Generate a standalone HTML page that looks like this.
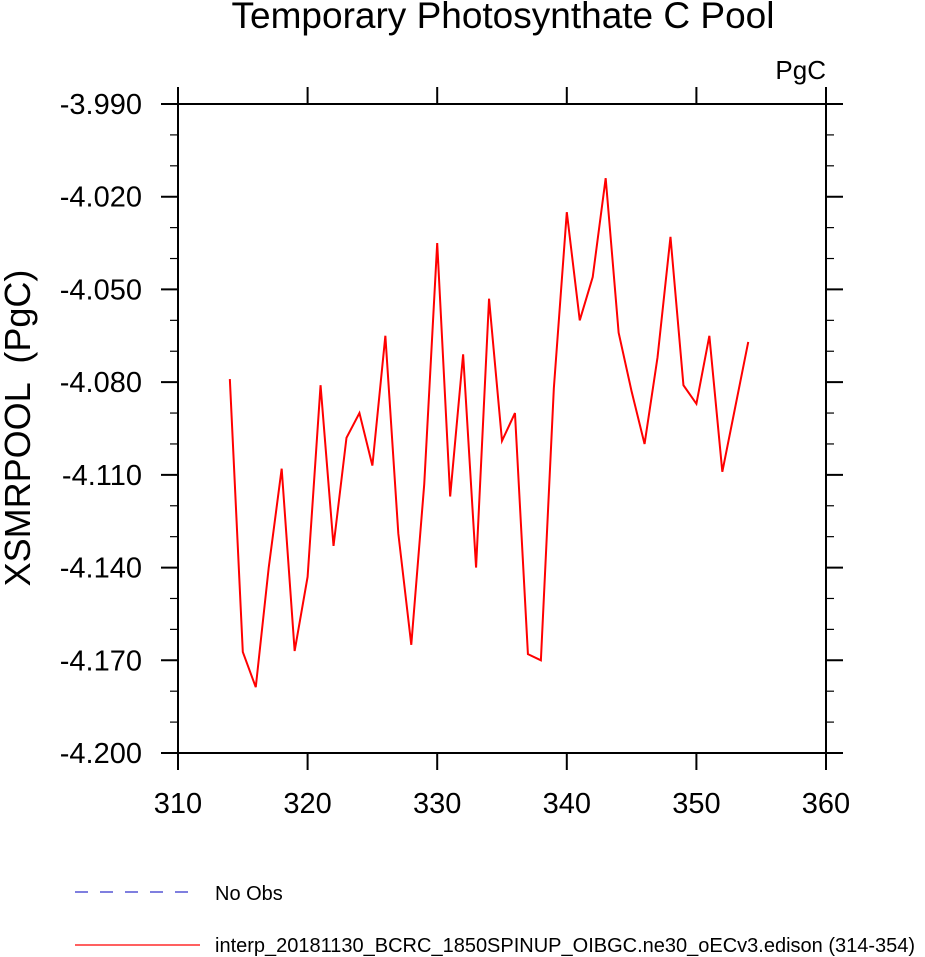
<!DOCTYPE html>
<html><head><meta charset="utf-8"><style>
html,body{margin:0;padding:0;background:#fff;}
svg{display:block;font-family:"Liberation Sans",sans-serif;}
</style></head><body>
<svg id="chart" width="925" height="957" viewBox="0 0 925 957">
<text x="503" y="28" font-size="37" text-anchor="middle">Temporary Photosynthate C Pool</text>
<text x="826" y="79" font-size="26" text-anchor="end">PgC</text>
<text transform="translate(30,428) rotate(-90)" font-size="36" text-anchor="middle" xml:space="preserve" style="white-space:pre">XSMRPOOL  (PgC)</text>
<g id="axes"></g>
<polyline id="series" fill="none" stroke="#ff0000" stroke-width="2"/>
<rect x="178" y="104" width="648" height="649" fill="none" stroke="#000" stroke-width="2"/>
<g>
<line x1="75" y1="892" x2="195" y2="892" stroke="#3333cc" stroke-width="1.2" stroke-dasharray="13,12"/>
<text x="215" y="900" font-size="20">No Obs</text>
<line x1="75" y1="945" x2="200" y2="945" stroke="#ff0000" stroke-width="1.2"/>
<text x="215" y="952" font-size="20">interp_20181130_BCRC_1850SPINUP_OIBGC.ne30_oECv3.edison (314-354)</text>
</g>
</svg>
<script>
const years=[314,315,316,317,318,319,320,321,322,323,324,325,326,327,328,329,330,331,332,333,334,335,336,337,338,339,340,341,342,343,344,345,346,347,348,349,350,351,352,353,354];
const values=[-4.079,-4.1673,-4.1787,-4.140,-4.108,-4.167,-4.143,-4.081,-4.133,-4.098,-4.090,-4.107,-4.065,-4.129,-4.165,-4.113,-4.035,-4.117,-4.071,-4.140,-4.053,-4.099,-4.090,-4.168,-4.170,-4.082,-4.025,-4.060,-4.046,-4.014,-4.064,-4.083,-4.100,-4.072,-4.033,-4.081,-4.087,-4.065,-4.109,-4.088,-4.067];
const xTicks=[310,320,330,340,350,360];
const yTicks=[-3.990,-4.020,-4.050,-4.080,-4.110,-4.140,-4.170,-4.200];
const X0=178,X1=826,Y0=104,Y1=753,XMIN=310,XMAX=360,YMAX=-3.99,YMIN=-4.2;
function sx(v){return X0+(v-XMIN)/(XMAX-XMIN)*(X1-X0);}
function sy(v){return Y0+(YMAX-v)/(YMAX-YMIN)*(Y1-Y0);}
const NS="http://www.w3.org/2000/svg";
const g=document.getElementById('axes');
function ln(x1,y1,x2,y2,name){const l=document.createElementNS(NS,'line');
l.setAttribute('x1',x1);l.setAttribute('y1',y1);l.setAttribute('x2',x2);l.setAttribute('y2',y2);
l.setAttribute('stroke','#000');l.setAttribute('stroke-width',name.indexOf('minor')>=0?1.2:2);


g.appendChild(l);}
function tx(x,y,s,anchor,name){const t=document.createElementNS(NS,'text');
t.setAttribute('x',x);t.setAttribute('y',y);t.setAttribute('font-size','29');t.setAttribute('text-anchor',anchor);t.textContent=s;


g.appendChild(t);}
xTicks.forEach(v=>{const x=sx(v);ln(x,Y1,x,Y1+17,'x-tick');ln(x,Y0,x,Y0-17,'x-tick-top');tx(x,Y1+60,String(v),'middle','x-tick-label');});
yTicks.forEach(v=>{const y=sy(v);ln(X0-17,y,X0,y,'y-tick');ln(X1,y,X1+17,y,'y-tick-right');tx(X0-36,y+10,v.toFixed(3),'end','y-tick-label');});
for(let i=0;i<yTicks.length-1;i++){for(let k=1;k<3;k++){const v=yTicks[i]-0.01*k;const y=sy(v);ln(X0-8,y,X0,y,'y-minor-tick');ln(X1,y,X1+8,y,'y-minor-tick-right');}}
document.getElementById('series').setAttribute('points',years.map((yr,i)=>sx(yr)+','+sy(values[i])).join(' '));
</script>
</body></html>
